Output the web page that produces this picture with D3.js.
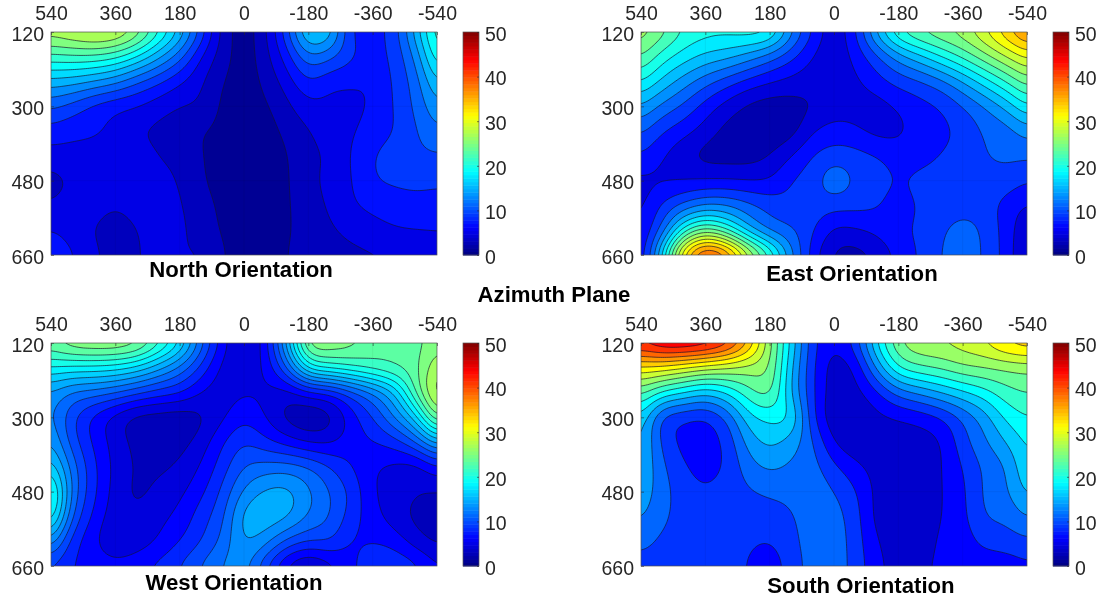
<!DOCTYPE html>
<html><head><meta charset="utf-8">
<script src="https://cdn.jsdelivr.net/npm/d3@7/dist/d3.min.js"></script>
<style>
html,body{margin:0;padding:0;background:#fff}
svg{display:block;filter:blur(0.35px)}
text{font-family:"Liberation Sans",Arial,sans-serif}
</style></head><body><svg id="c" width="1104" height="603"></svg>
<script>
const azimuthTicks=[540,360,180,0,-180,-360,-540];
const elevationTicks=[120,300,480,660];
const colorTicks=[0,10,20,30,40,50];

const north=[
[27.5,28.5,29.5,29,26,21,16,9.5,3.4,1,3.8,9.5,17,15.5,7.9,7.3,9,15,22],
[21.3,21.6,21.5,20.5,18,14.5,10.8,6,3,1,3.3,7,11.5,10.5,8.3,7.2,8.6,12.5,20],
[15.3,14.8,13.8,12.5,10.3,8.4,6.3,4.3,2.1,1,2.5,5,7.8,6.6,6.3,6.3,8.3,11,16.5],
[10.5,9.2,7.5,6.5,6,4.9,4,3.7,1.6,1,1.7,3.5,5.4,5.5,5.5,6.3,8.1,10.4,13.8],
[7.2,6.6,6.3,5.5,4.2,3.6,3,2.1,1.5,1,1.2,2.5,3.9,5,5.7,7,8,9.8,11.8],
[5.2,5.3,5.2,5.1,5,4,3.5,2.1,1.2,0.8,1,1.9,3.5,4.3,6.1,7.9,8.8,9.5,9.8],
[3.2,4.3,4.9,5,5,4.5,3.9,2.3,1.2,0.8,1,1.8,3.4,4.6,5.9,7.8,8.3,8.5,8.3],
[4.2,4.9,4.8,4.2,4.8,4.8,4.2,2.8,1.6,0.9,1,1.8,3,4.3,5.7,6.5,7,7.3,7.3],
[6,5,4,3,4,4.7,4.4,3.1,1.8,1,1,1.8,2.8,3.7,4.5,5.2,5.8,6,6],
[8.5,6.2,4.6,3,3.9,4.4,3.9,4.2,2.2,1,1,2,2.8,3.2,3.5,3.7,3.9,4,5.2]];

const east=[
[27,24.3,21,19.9,19.9,20.5,19.9,13.3,7.8,4.3,7.8,15.5,21.5,24,25.5,27,30,34,38],
[23.5,19.9,17.7,16,15,13.3,11.1,8.4,5.6,4.1,6.3,9.5,13.3,16,18.8,21.5,24.5,27.5,30.5],
[19.1,16,13.3,10.9,8.9,7.1,5.8,4.9,4.3,4.1,5.2,6.9,8.6,9.8,11.6,14.4,17.7,21,24.5],
[14.4,11.6,9.5,6.9,4.7,3,2.3,2.5,3.4,4.5,4.7,4.7,5.9,7,8,10,12.2,15,18.8],
[10.6,8,6.4,4.6,2.7,2.2,2,2.5,5.4,6.5,6,4.9,5.2,6.5,7.3,8.4,10.3,11.2,13.4],
[7.7,5.8,4,2.7,2.5,2.5,3.4,5.6,7.8,8.9,8.6,7.8,6.7,6.9,7.9,8.7,9.9,10.4,10.4],
[5.1,5.3,5.6,5.8,5.8,5.6,5.8,7.8,8.9,11.6,9.6,8.9,7.6,8.5,8.9,9.1,9.2,9.1,7.9],
[4.9,8.1,10.6,12.4,12.2,10.6,9.2,8.4,8.9,8.6,8.5,8,6.7,8.1,8.7,9.1,8.9,7,5.3],
[5.4,10.9,19.9,24,21,15.5,11.7,10.3,8.1,5.2,5.3,6.2,7.3,8.2,9.6,10.9,9.6,6.9,3.6],
[5.1,17.7,34,42,39,29.8,22.1,13.3,6.7,2.9,2.3,3.7,6.2,8,10,11.4,9.7,7,2.9]];

const west=[
[24,26,26.5,26.5,25.5,22,18,11.5,6.3,3.5,6.3,14.8,25.5,26,25,23.5,22.5,23.5,25],
[18.9,18.5,18.4,18,16.8,14.5,11.8,8.3,4.9,4.1,5.8,10.5,18,19.5,20.5,21.5,22.5,23.5,27.5],
[13.8,12,11.4,10.5,9.2,8,7.2,5.3,4.5,5.3,5,4.7,6.4,7.3,9.7,12.2,15.6,22.5,29],
[13,9.2,6.7,4.7,3.1,2.8,2.6,3.4,5.1,6.7,5.4,3.2,2.3,3.2,6.3,8.8,12.2,16.5,25],
[14.3,9.7,6.8,4.7,3.2,2.9,3.1,4.5,6.9,8.7,7.6,6.4,5.3,5.2,6.4,7,8,10.5,14.9],
[17.1,11.4,7.5,4.9,3.5,3.4,4,5.6,8,10.5,11.2,11.3,10.5,8.8,7.1,5.7,5,4.8,7],
[20.9,11.8,7.5,4.7,3.4,4.1,5,6.7,9.2,12.5,14.2,14.4,12.5,10.5,8.4,5.6,4.6,3.9,3.7],
[19.5,10.5,6.7,4.4,4,4.9,5.9,8,10.1,14.5,15,14.2,12,10.5,8,6.1,4.6,3.3,2.5],
[13.7,8,5.8,3.9,4.4,5.6,7.1,8.8,11,14,12.8,10.1,8.8,8.8,6.9,7,6.4,4.6,3.3],
[8.4,7,6.5,6.3,6.8,7.7,9,10.8,12.4,12.8,8.8,4.7,2.8,4.5,6.6,8.6,8.6,7.8,5.6]];

const south=[
[44,46.5,47,46,43,36,26,17,8.5,5.5,9,18,25,27.5,28,29,30.5,33.5,35],
[32,31.5,30,28.5,27.5,26.5,25,15.5,8,3.9,5.5,13,20,22,23,24.5,25,25.5,26],
[23.5,19.5,17.5,15.8,17.8,21.5,23.3,15,8,3.6,4.2,7,11,13,15,17,19,21.5,22.7],
[17.6,9.5,8,7.5,10.5,16.5,18.2,17.5,8.2,3.2,3,4.4,5.2,6,7.5,10.5,13.8,18,20.1],
[16,9.4,6.8,6.3,8.2,13.5,15.6,13.8,10.2,5,3.2,3.4,3.6,3.9,5,9,12,15,18.2],
[15.3,10.5,7.8,6.6,7.9,11.3,13,12,11,8,5.7,4,3.2,3.4,4.9,7.6,10.5,12.5,17.6],
[14.4,11,8.7,7.8,8.6,9.7,10.3,10.7,11.5,10,7.7,4.3,3,3.3,4.9,7,10.4,12,15.8],
[13,10.5,9,8.3,8.8,9,9.2,9.7,11.4,11,8.5,4.2,3.1,3.3,5,6.8,10,10.6,12.8],
[10.8,9.5,9.1,8.5,8.9,8,7.5,9.2,11.2,11.5,8.7,5.2,3.3,3.6,5.5,6.2,8.2,8.7,9.6],
[9,9.1,9.2,8.7,9,7.2,6,8.6,11,11.7,8.8,6,3.7,4.5,5.5,6,5.8,6,6.8]];

const northLevels=d3.range(0,50,2);
const eastLevels=d3.range(1.2,50,2.2);
const westLevels=d3.range(2,50,1.7);
const southLevels=d3.range(2.5,50,2.5);

const panels=[
 {name:"North Orientation",z:north,levels:northLevels,x:51,y:32,tx:241,ty:276.5},
 {name:"East Orientation",z:east,levels:eastLevels,x:641,y:32,tx:852,ty:280.5},
 {name:"West Orientation",z:west,levels:westLevels,x:51,y:343,tx:234,ty:590},
 {name:"South Orientation",z:south,levels:southLevels,x:641,y:343,tx:861,ty:593}
];
const W=386,H=223;
const jet=t=>{const c=v=>Math.max(0,Math.min(1,v));
  const r=c(Math.min(4*t-1.5,-4*t+4.5)),g=c(Math.min(4*t-0.5,-4*t+3.5)),b=c(Math.min(4*t+0.5,-4*t+2.5));
  return d3.rgb(r*255,g*255,b*255)+"";};
const color=d3.scaleSequential(jet).domain([0,50]);

const K=10;
function cr(p0,p1,p2,p3,t){return 0.5*((2*p1)+(-p0+p2)*t+(2*p0-5*p1+4*p2-p3)*t*t+(-p0+3*p1-3*p2+p3)*t*t*t);}
function upsample(z){
  const ny=z.length,nx=z[0].length,fx=(nx-1)*K+1,fy=(ny-1)*K+1;
  const at=(j,i)=>{
    const jj=Math.max(0,Math.min(ny-1,j)),ii=Math.max(0,Math.min(nx-1,i));
    let v=z[jj][ii];
    if(i<0)v+=z[jj][0]-z[jj][1]; if(i>nx-1)v+=z[jj][nx-1]-z[jj][nx-2];
    if(j<0)v+=z[0][ii]-z[1][ii]; if(j>ny-1)v+=z[ny-1][ii]-z[ny-2][ii];
    return v;};
  const out=new Float64Array(fx*fy);
  for(let b=0;b<fy;b++){const j=Math.min(ny-2,Math.floor(b/K)),v=b/K-j;
    for(let a=0;a<fx;a++){const i=Math.min(nx-2,Math.floor(a/K)),u=a/K-i;
      const row=d3.range(-1,3).map(d=>cr(at(j+d,i-1),at(j+d,i),at(j+d,i+1),at(j+d,i+2),u));
      out[b*fx+a]=cr(row[0],row[1],row[2],row[3],v);}}
  d3.blur2({data:out,width:fx},K*0.3);
  return {values:out,fx,fy};
}

const svg=d3.select("#c");
const defs=svg.append("defs");
const INK="#262626";
panels.forEach((p,idx)=>{
  const g=svg.append("g");
  const xS=d3.scaleLinear().domain([540,-540]).range([p.x,p.x+W]);
  const yS=d3.scaleLinear().domain([120,660]).range([p.y,p.y+H]);
  const {values,fx,fy}=upsample(p.z);
  const az=a=>540-(a-0.5)/(fx-1)*1080, el=b=>120+(b-0.5)/(fy-1)*540;
  const step=p.levels[1]-p.levels[0];
  defs.append("clipPath").attr("id","clip"+idx).append("rect").attr("x",p.x).attr("y",p.y).attr("width",W).attr("height",H);
  const plot=g.append("g").attr("clip-path",`url(#clip${idx})`);
  plot.append("rect").attr("x",p.x).attr("y",p.y).attr("width",W).attr("height",H)
     .attr("fill",color(p.levels[0]-step/2));
  const contours=d3.contours().size([fx,fy]).thresholds(p.levels).smooth(true)(values);
  const pathFill=d=>d.coordinates.map(poly=>poly.map(ring=>"M"+ring.map(c=>xS(az(c[0]))+","+yS(el(c[1]))).join("L")+"Z").join("")).join("");
  const pathLine=d=>{
    let s="";
    const edge=c=>c[0]<=0.5||c[0]>=fx-0.5||c[1]<=0.5||c[1]>=fy-0.5;
    d.coordinates.forEach(poly=>poly.forEach(ring=>{
      let pen=false;
      for(let i=0;i<ring.length-1;i++){
        const a=ring[i],b=ring[i+1];
        if(edge(a)&&edge(b)){pen=false;continue;}
        if(!pen){s+="M"+xS(az(a[0]))+","+yS(el(a[1]));pen=true;}
        s+="L"+xS(az(b[0]))+","+yS(el(b[1]));
      }}));
    return s;};
  plot.selectAll("path.f").data(contours).join("path").attr("class","f")
     .attr("d",pathFill).attr("fill",d=>color(d.value+step/2)).attr("stroke",d=>color(d.value+step/2)).attr("stroke-width",0.3);
  plot.selectAll("line.gx").data(azimuthTicks).join("line").attr("x1",d=>xS(d)).attr("x2",d=>xS(d)).attr("y1",p.y).attr("y2",p.y+H)
     .attr("stroke","#000").attr("stroke-opacity",0.07).attr("stroke-width",0.8);
  plot.selectAll("line.gy").data(elevationTicks).join("line").attr("y1",d=>yS(d)).attr("y2",d=>yS(d)).attr("x1",p.x).attr("x2",p.x+W)
     .attr("stroke","#000").attr("stroke-opacity",0.07).attr("stroke-width",0.8);
  plot.selectAll("path.l").data(contours).join("path").attr("class","l")
     .attr("d",pathLine).attr("fill","none").attr("stroke","#14142e").attr("stroke-opacity",0.8).attr("stroke-width",0.85).attr("stroke-linejoin","round");
  const ax=g.append("g").attr("transform",`translate(0,${p.y})`).call(d3.axisTop(xS).tickValues(azimuthTicks).tickSize(-3).tickPadding(12).tickFormat(d=>String(d)));
  const ay=g.append("g").attr("transform",`translate(${p.x},0)`).call(d3.axisLeft(yS).tickValues(elevationTicks).tickSize(-3).tickPadding(7));
  [ax,ay].forEach(a=>{a.select(".domain").remove();a.selectAll("line").attr("stroke",INK).attr("stroke-width",0.6);
    a.selectAll("text").attr("font-size",19.5).attr("fill",INK).style("font-family",'"Liberation Sans",Arial,sans-serif');});
  ay.selectAll("text").attr("dy","0.42em");
  g.append("rect").attr("x",p.x).attr("y",p.y).attr("width",W).attr("height",H).attr("fill","none").attr("stroke","#555").attr("stroke-width",0.7);
  const cx=p.x+412,cw=16;
  const cS=d3.scaleLinear().domain([0,50]).range([p.y+H,p.y]);
  g.append("g").selectAll("rect").data(d3.range(64)).join("rect")
    .attr("x",cx).attr("width",cw)
    .attr("y",d=>cS((d+1)/64*50)).attr("height",H/64+0.5)
    .attr("fill",d=>color((d+0.5)/64*50));
  g.append("rect").attr("x",cx).attr("y",p.y).attr("width",cw).attr("height",H).attr("fill","none").attr("stroke","#555").attr("stroke-width",0.7);
  const ac=g.append("g").attr("transform",`translate(${cx+cw},0)`).call(d3.axisRight(cS).tickValues(colorTicks).tickSize(-2).tickPadding(6));
  ac.select(".domain").remove();ac.selectAll("line").attr("stroke",INK).attr("stroke-width",0.6);
  ac.selectAll("text").attr("font-size",19.5).attr("fill",INK).attr("dy","0.42em").style("font-family",'"Liberation Sans",Arial,sans-serif');
  g.append("text").attr("x",p.tx).attr("y",p.ty).attr("text-anchor","middle").attr("font-size",22.2).attr("font-weight","bold").attr("fill","#000").text(p.name);
});
svg.append("text").attr("x",554).attr("y",302).attr("text-anchor","middle").attr("font-size",22.2).attr("font-weight","bold").attr("fill","#000").text("Azimuth Plane");
</script></body></html>
